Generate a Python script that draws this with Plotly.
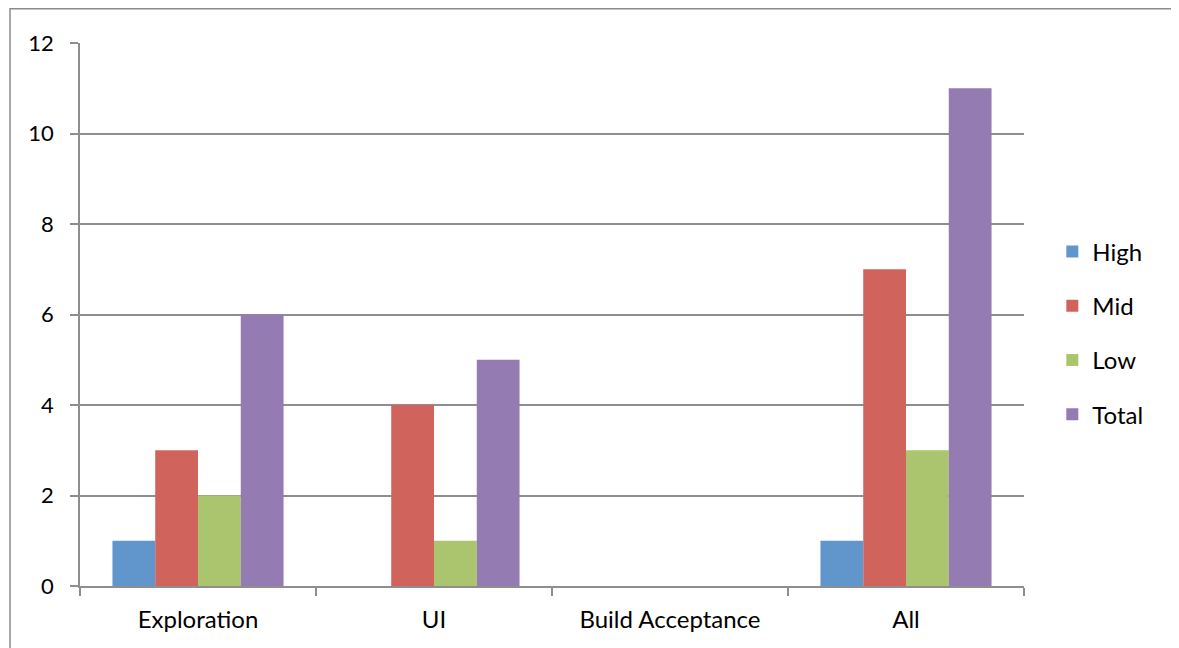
import plotly.graph_objects as go

categories = ["Exploration", "UI", "Build Acceptance", "All"]
high = [1, 0, 0, 1]
mid = [3, 4, 0, 7]
low = [2, 1, 0, 3]
total = [6, 5, 0, 11]

series = [
    ("High", high, "#6096CB"),
    ("Mid", mid, "#D0645D"),
    ("Low", low, "#AAC56D"),
    ("Total", total, "#947BB1"),
]

# page body has an 8px margin, so the figure is drawn from (8, 8)
W, H = 1171, 640
L, R, T, B = 72, 155, 35, 62
pw, ph = W - L - R, H - T - B

fig = go.Figure()
for name, vals, col in series:
    fig.add_trace(go.Bar(x=categories, y=vals, name=name, marker_color=col,
                         marker_line_width=0, legendgroup=name))

font = "Lato, 'Open Sans', sans-serif"
grid = "#8E8E8E"
fig.update_layout(
    width=W, height=H,
    margin=dict(l=L, r=R, t=T, b=B, pad=0),
    paper_bgcolor="white", plot_bgcolor="white",
    barmode="group", bargap=0.275, bargroupgap=0,
    font=dict(family=font, size=22, color="black"),
    legend=dict(x=1.030, y=0.466, xanchor="left", yanchor="middle",
                font=dict(size=24), tracegroupgap=20, itemwidth=30),
    xaxis=dict(showline=True, linecolor=grid, linewidth=1.5, ticks="outside",
               tickson="boundaries", ticklen=8, tickcolor=grid, tickwidth=1.5,
               showgrid=False, ticklabelstandoff=11, tickfont=dict(size=24)),
    yaxis=dict(range=[0, 12], dtick=2, showline=True, linecolor=grid, linewidth=1.5,
               ticks="outside", ticklen=8, tickcolor=grid, tickwidth=1.5,
               showgrid=True, gridcolor=grid, gridwidth=1.5, zeroline=False,
               ticklabelstandoff=12, tickfont=dict(size=22)),
    shapes=[dict(type="rect", xref="paper", yref="paper",
                 x0=(2 - L) / pw, x1=(W + 20 - L) / pw,
                 y0=(H - B - (H + 20)) / ph, y1=(H - B - 0.75) / ph,
                 line=dict(color="#8C8C8C", width=1.5), fillcolor="rgba(0,0,0,0)",
                 layer="below")],
)

fig.write_html("out.html")
